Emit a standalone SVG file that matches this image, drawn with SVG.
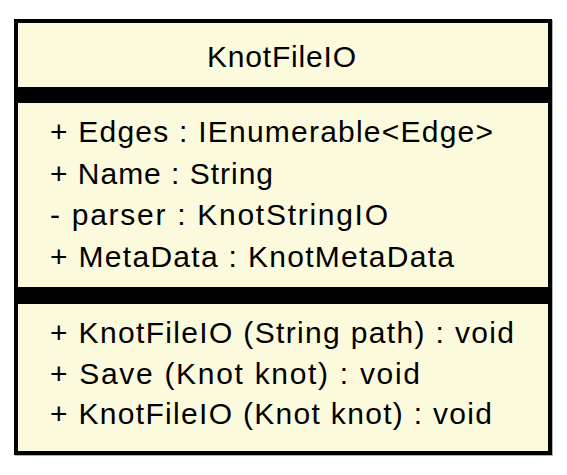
<svg xmlns="http://www.w3.org/2000/svg" width="567" height="475" viewBox="0 0 567 475">
<style>
.t{font-family:"Liberation Sans",Arial,sans-serif;font-size:30px;fill:#000}
.box{fill:#FCFADD;stroke:#000;stroke-width:4}
.bar{fill:#000}
</style>
<rect width="567" height="475" fill="#fff"/>
<g id="KnotFileIO">
<rect x="17" y="22" width="534" height="432" fill="none" stroke="#b0b0b0" stroke-width="4"/>
<rect class="box" x="16" y="21" width="534" height="432"/>
<text class="t" x="207" y="67" textLength="149" lengthAdjust="spacing">KnotFileIO</text>
<rect class="bar" x="16" y="87" width="534" height="16"/>
<text class="t" x="50" y="142" textLength="443" lengthAdjust="spacing">+ Edges : IEnumerable&lt;Edge&gt;</text>
<text class="t" x="50" y="183.5" textLength="223" lengthAdjust="spacing">+ Name : String</text>
<text class="t" x="50" y="225" textLength="338" lengthAdjust="spacing">- parser : KnotStringIO</text>
<text class="t" x="50" y="266.5" textLength="404" lengthAdjust="spacing">+ MetaData : KnotMetaData</text>
<rect class="bar" x="16" y="287" width="534" height="17"/>
<text class="t" x="50" y="343" textLength="464" lengthAdjust="spacing">+ KnotFileIO (String path) : void</text>
<text class="t" x="50" y="383.5" textLength="370" lengthAdjust="spacing">+ Save (Knot knot) : void</text>
<text class="t" x="50" y="424" textLength="442" lengthAdjust="spacing">+ KnotFileIO (Knot knot) : void</text>
</g>
<g id="connectors"></g>
</svg>
